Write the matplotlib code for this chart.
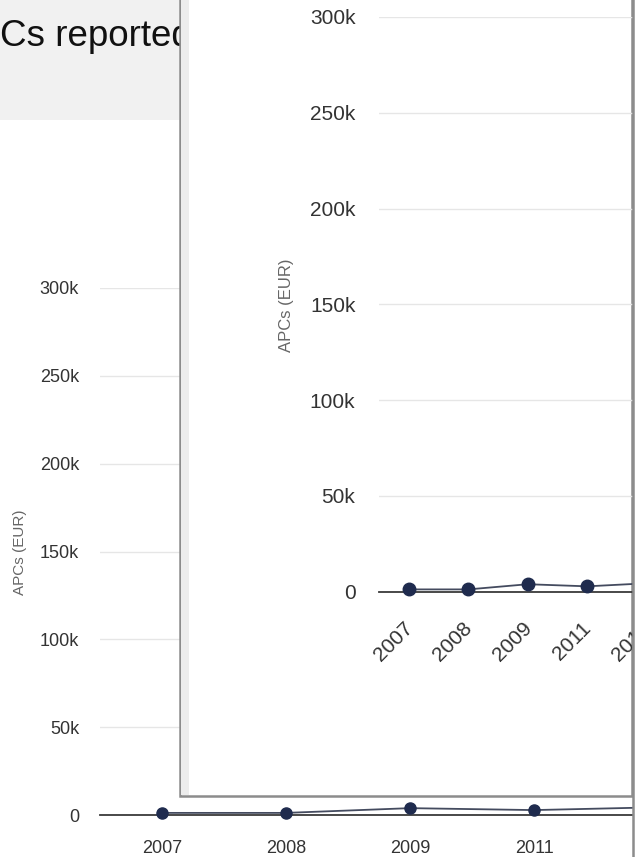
import matplotlib
matplotlib.use("Agg")
import matplotlib.pyplot as plt
import matplotlib.transforms as mtrans
from matplotlib.patches import Rectangle

# ---- data ----
years = ["2007", "2008", "2009", "2011", "2012"]
apcs = [1200, 1200, 3900, 2800, 4400]
y_ticks = [0, 50000, 100000, 150000, 200000, 250000, 300000]
y_tick_labels = ["0", "50k", "100k", "150k", "200k", "250k", "300k"]
y_title = "APCs (EUR)"
chart_title = "APCs reported"

W, H = 636, 857
plt.rcParams['font.family'] = ['Liberation Sans', 'DejaVu Sans']
fig = plt.figure(figsize=(W / 100, H / 100), dpi=100)
fig.patch.set_facecolor("white")


def box(left, top, right, bottom):
    return [left / W, 1 - bottom / H, (right - left) / W, (bottom - top) / H]


LINE_C = "#444b5f"
MARK_C = "#1f2b4e"
GRID_C = "#e6e6e6"
TXT_C = "#333333"

# ---- background title band ----
fig.patches.append(Rectangle((0, 1 - 120 / H), 180 / W, 120 / H, transform=fig.transFigure,
                             facecolor="#f1f1f1", edgecolor="none", zorder=-2))
fig.text(-49 / W, 1 - 46 / H, chart_title, fontsize=26.5, color="#111111",
         ha="left", va="baseline", zorder=-1)

# ---- main (background) chart ----
ax = fig.add_axes(box(100, 288, 720, 815), zorder=0)
ax.set_facecolor("none")
x = list(range(len(years)))
ax.plot(x, apcs, color=LINE_C, lw=1.3, marker="o", ms=8, mfc=MARK_C, mec=MARK_C,
        clip_on=False, zorder=3)
ax.set_xlim(-0.5, len(years) - 0.5)
ax.set_ylim(0, 300000)
ax.set_yticks(y_ticks)
ax.set_yticklabels(y_tick_labels)
ax.set_xticks(x)
ax.set_xticklabels(years)
ax.tick_params(axis="y", length=0, pad=15, labelsize=13, labelcolor=TXT_C)
ax.tick_params(axis="x", length=0, pad=18, labelsize=13, labelcolor=TXT_C)
ax.grid(axis="y", color=GRID_C, lw=1)
ax.set_axisbelow(True)
for s in ["top", "right", "left"]:
    ax.spines[s].set_visible(False)
ax.spines["bottom"].set_color("#3a3a3a")
ax.spines["bottom"].set_linewidth(1.3)
fig.text(20 / W, 1 - 552 / H, y_title, rotation=90, fontsize=11, color="#666666",
         ha="center", va="center")

# ---- overlay box ----
fig.patches.append(Rectangle((179.5 / W, 1 - 796 / H), (632 - 179.5) / W, (796 + 10) / H,
                             transform=fig.transFigure, facecolor="white",
                             edgecolor="#8c8c8c", lw=1.8, zorder=2))
fig.patches.append(Rectangle((181 / W, 1 - 795 / H), 8 / W, 805 / H,
                             transform=fig.transFigure, facecolor="#ededed",
                             edgecolor="none", zorder=2.1))

# ---- inset chart ----
ax2 = fig.add_axes(box(379, 17, 676.5, 591.7), zorder=3)
ax2.set_facecolor("none")
ax2.plot(x, apcs, color=LINE_C, lw=1.3, marker="o", ms=9, mfc=MARK_C, mec=MARK_C,
         clip_on=False, zorder=3)
ax2.set_xlim(-0.5, len(years) - 0.5)
ax2.set_ylim(0, 300000)
ax2.set_yticks(y_ticks)
ax2.set_yticklabels(y_tick_labels)
ax2.set_xticks(x)
ax2.set_xticklabels(years, rotation=45, ha="right", va="center", rotation_mode="anchor")
ax2.tick_params(axis="y", length=0, pad=17, labelsize=15, labelcolor=TXT_C)
ax2.tick_params(axis="x", length=0, pad=24, labelsize=15, labelcolor=TXT_C)
off = mtrans.ScaledTranslation(1 / 100, 0, fig.dpi_scale_trans)
for lbl in ax2.get_xticklabels():
    lbl.set_transform(lbl.get_transform() + off)
ax2.grid(axis="y", color=GRID_C, lw=1)
ax2.set_axisbelow(True)
for s in ["top", "right", "left"]:
    ax2.spines[s].set_visible(False)
ax2.spines["bottom"].set_color("#3a3a3a")
ax2.spines["bottom"].set_linewidth(1.3)
fig.text(287 / W, 1 - 305 / H, y_title, rotation=90, fontsize=12, color="#666666",
         ha="center", va="center", zorder=4)

# ---- right edge ----
fig.patches.append(Rectangle((633 / W, 0), 3 / W, 1, transform=fig.transFigure,
                             facecolor="white", edgecolor="none", zorder=5))
fig.lines.append(plt.Line2D([632.5 / W, 632.5 / W], [0, 1], transform=fig.transFigure,
                            color="#8c8c8c", lw=1.8, zorder=6))

fig.savefig("out.png", dpi=100)
